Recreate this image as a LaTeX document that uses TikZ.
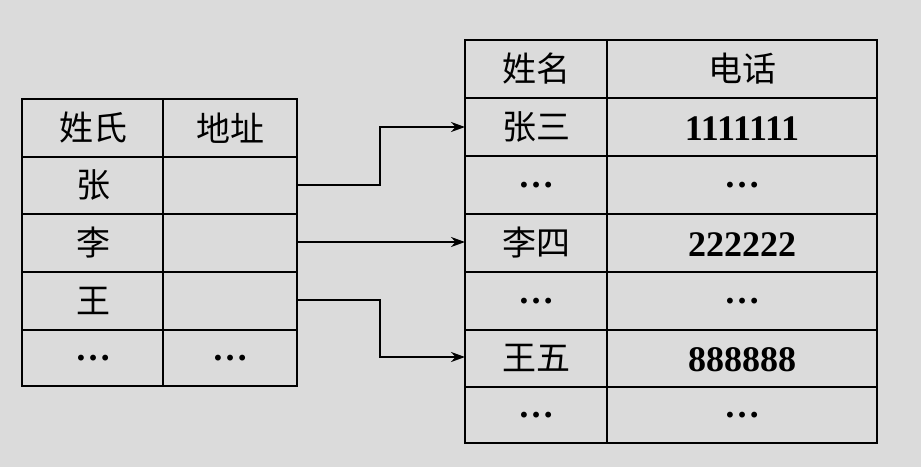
\documentclass[tikz,border=0pt]{standalone}
\usepackage{fontspec}
\setmainfont{Liberation Serif}
\newfontfamily\cjk{Noto Sans CJK SC}
\usetikzlibrary{arrows.meta}
\begin{document}
\begin{tikzpicture}[x=1pt,y=-1pt,
  ln/.style={line width=2.6pt,line cap=rect},
  ch/.style={font=\cjk\fontsize{34}{36}\selectfont,inner sep=0pt},
  nm/.style={font=\bfseries\fontsize{36}{38}\selectfont,inner sep=0pt},
  arr/.style={line width=2.2pt,-{Stealth[length=14pt,width=10pt]}}]
\fill[gray!28] (0,0) rectangle (921,467);
\useasboundingbox (0,0) rectangle (921,467);
% left table
\foreach \y in {99,157,214,272,330,386} \draw[ln] (22,\y) -- (297,\y);
\foreach \x in {22,163,297} \draw[ln] (\x,99) -- (\x,386);
% right table
\foreach \y in {40,98,156,214,272,330,387,443} \draw[ln] (465,\y) -- (877,\y);
\foreach \x in {465,607,877} \draw[ln] (\x,40) -- (\x,443);
% left texts
\node[ch] (h1) at (93,128) {姓氏};
\node[ch] (h2) at (230,128) {地址};
\node[ch] (z) at (93,185) {张};
\node[ch] (l) at (93,243) {李};
\node[ch] (w) at (93,301) {王};
\node[nm] (d1) at (93,358) {…};
\node[nm] (d2) at (230,358) {…};
\coordinate (az) at (297,185);
\coordinate (al) at (297,242);
\coordinate (aw) at (297,300);
% right texts
\node[ch] (r1) at (536,69) {姓名};
\node[ch] (r2) at (742,69) {电话};
\node[ch] (zs) at (536,127) {张三};
\node[nm] (n1) at (742,129) {1111111};
\node[nm] (e1) at (536,185) {…};
\node[nm] (e2) at (742,185) {…};
\node[ch] (ls) at (536,243) {李四};
\node[nm] (n2) at (742,245) {222222};
\node[nm] (e3) at (536,301) {…};
\node[nm] (e4) at (742,301) {…};
\node[ch] (ww) at (536,358) {王五};
\node[nm] (n3) at (742,360) {888888};
\node[nm] (e5) at (536,415) {…};
\node[nm] (e6) at (742,415) {…};
\coordinate (tz) at (465,127);
\coordinate (tl) at (465,242);
\coordinate (tw) at (465,357);
% arrows
\draw[arr] (az) -- (380,185) -- (380,127) -- (tz);
\draw[arr] (al) -- (tl);
\draw[arr] (aw) -- (380,300) -- (380,357) -- (tw);
\end{tikzpicture}
\end{document}
